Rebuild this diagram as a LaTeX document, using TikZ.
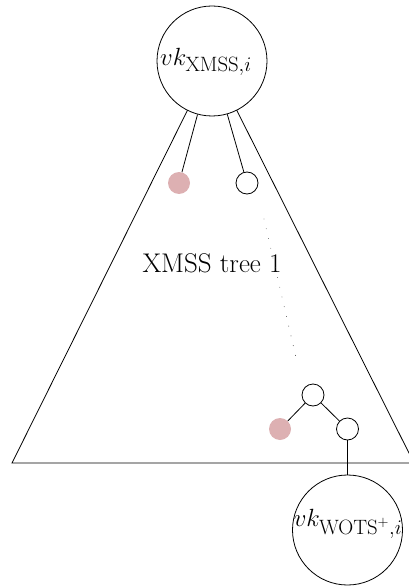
\documentclass[tikz,border=0pt]{standalone}
\begin{document}
\begin{tikzpicture}[x=1pt,y=-1pt,
  edge/.style={line width=0.8pt},
  bigkey/.style={circle,draw,fill=white,line width=0.8pt,minimum size=110pt,inner sep=0pt},
  hashnode/.style={circle,draw,fill=white,line width=0.8pt,minimum size=22pt,inner sep=0pt},
  authnode/.style={circle,fill=authred,minimum size=22pt,inner sep=0pt},
  keylabel/.style={font=\fontsize{28}{32}\selectfont},
  treelabel/.style={font=\fontsize{27}{32}\selectfont}
]
\definecolor{authred}{HTML}{DDB0B2}
\useasboundingbox (0,0) rectangle (408,588);

% the XMSS tree as a triangle whose apex is the root
\coordinate (apex) at (212,61);
\coordinate (bl) at (12,463);
\coordinate (br) at (414,463);
\draw[edge] (apex) -- (bl) -- (br) -- cycle;

% root node and its two children
\node[bigkey] (root) at (212,61) {};
\node[keylabel] at (206,62) {$vk_{\mathrm{XMSS},i}$};
\node[authnode] (a1) at (179,183) {};
\node[hashnode] (h1) at (247,183) {};
\draw[edge] (root) -- (a1);
\draw[edge] (root) -- (h1);

\node[treelabel,anchor=base] (lbl) at (212,272) {XMSS tree 1};

% path down the tree
\coordinate (d1) at (264,219);
\coordinate (d2) at (297,362);
\draw[black!75,line width=0.9pt,line cap=round,dash pattern=on 0pt off 10pt] (d1) -- (d2);

% bottom of the authentication path
\node[hashnode] (h2) at (313,395) {};
\node[authnode] (a2) at (280,429) {};
\node[hashnode] (h3) at (347.5,429) {};
\draw[edge] (h2) -- (a2);
\draw[edge] (h2) -- (h3);

% WOTS+ public key as the leaf
\node[bigkey] (leaf) at (347.5,530) {};
\node[keylabel] at (348,524) {$vk_{\mathrm{WOTS}^{+},i}$};
\draw[edge] (h3) -- (leaf);
\end{tikzpicture}
\end{document}
